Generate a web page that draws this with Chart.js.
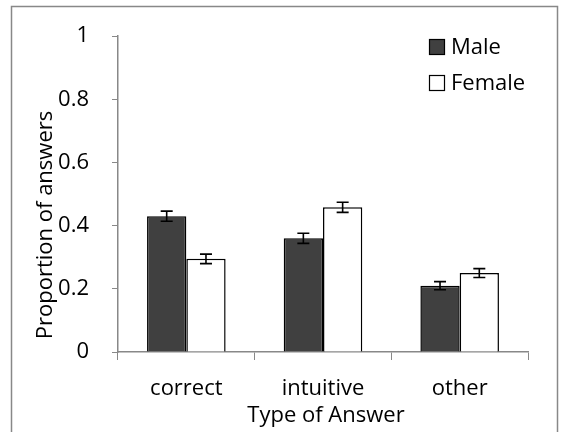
<!DOCTYPE html>
<html>
<head>
<meta charset="utf-8">
<script src="https://cdn.jsdelivr.net/npm/chart.js@4"></script>
<style>
html, body { margin: 0; padding: 0; background: #fff; }
#wrap { width: 561px; height: 432px; }
</style>
</head>
<body>
<div id="wrap"><canvas id="answers-chart" width="561" height="432"></canvas></div>
<script>
// values
const categories = ['correct', 'intuitive', 'other'];
const maleValues = [0.43, 0.36, 0.21];
const femaleValues = [0.295, 0.458, 0.25];
const maleErrors = [0.016, 0.016, 0.013];
const femaleErrors = [0.015, 0.016, 0.014];
const yTicks = [0, 0.2, 0.4, 0.6, 0.8, 1];
const errorSets = [maleErrors, femaleErrors];

const FONT = '"Open Sans", "DejaVu Sans", sans-serif';
const AXIS_GREY = '#888888';

// grey frame round the whole chart
const framePlugin = {
    id: 'frame',
    beforeDraw(chart) {
        const c = chart.ctx;
        c.save();
        c.fillStyle = '#fff';
        c.fillRect(0, 0, chart.width, chart.height);
        c.strokeStyle = AXIS_GREY;
        c.lineWidth = 1.5;
        c.strokeRect(11.5, 6.5, 546, 440);
        c.restore();
    }
};

// error bars drawn from the value arrays through the y scale
const errorBarPlugin = {
    id: 'errorBars',
    afterDatasetsDraw(chart) {
        const c = chart.ctx;
        const y = chart.scales.y;
        c.save();
        c.strokeStyle = '#000';
        c.lineWidth = 1.6;
        chart.data.datasets.forEach((ds, i) => {
            const meta = chart.getDatasetMeta(i);
            meta.data.forEach((bar, j) => {
                const v = ds.data[j];
                const e = errorSets[i][j];
                const top = y.getPixelForValue(v + e);
                const bot = y.getPixelForValue(v - e);
                const x = bar.x;
                c.beginPath();
                c.moveTo(x, top); c.lineTo(x, bot);
                c.moveTo(x - 6, top); c.lineTo(x + 6, top);
                c.moveTo(x - 6, bot); c.lineTo(x + 6, bot);
                c.stroke();
            });
        });
        c.restore();
    }
};

// axis titles and legend placed like the original
const labelsPlugin = {
    id: 'labels',
    afterDraw(chart) {
        const c = chart.ctx;
        c.save();
        c.fillStyle = '#000';
        c.font = '22px ' + FONT;
        c.textAlign = 'center';
        c.textBaseline = 'middle';
        c.fillText('Type of Answer', 326, 416);
        c.translate(46, 225);
        c.rotate(-Math.PI / 2);
        c.fillText('Proportion of answers', 0, 0);
        c.restore();

        c.save();
        c.font = '22px ' + FONT;
        c.textAlign = 'left';
        c.textBaseline = 'middle';
        chart.data.datasets.forEach((ds, i) => {
            const by = 39 + i * 36;
            c.fillStyle = ds.backgroundColor;
            c.fillRect(429, by, 16, 16);
            c.strokeStyle = '#000';
            c.lineWidth = 1.2;
            c.strokeRect(429.5, by + 0.5, 15, 15);
            c.fillStyle = '#000';
            c.fillText(ds.label, 451, by + 9);
        });
        c.restore();
    }
};

const data = {
    labels: categories,
    datasets: [{
        label: 'Male',
        data: maleValues,
        backgroundColor: '#404040',
        borderColor: '#000',
        borderWidth: 1.5
    }, {
        label: 'Female',
        data: femaleValues,
        backgroundColor: '#ffffff',
        borderColor: '#000',
        borderWidth: 1.5
    }]
};

const config = {
    type: 'bar',
    data: data,
    options: {
        responsive: false,
        animation: false,
        devicePixelRatio: 1,
        categoryPercentage: 0.575,
        barPercentage: 1,
        layout: { padding: { left: 0, top: 28, right: 33, bottom: 0 } },
        plugins: {
            legend: { display: false },
            tooltip: { enabled: false }
        },
        scales: {
            x: {
                afterFit(scale) { scale.height = 80; },
                grid: {
                    offset: true,
                    drawOnChartArea: false,
                    tickLength: 8,
                    color: AXIS_GREY
                },
                border: { color: AXIS_GREY, width: 1.5 },
                ticks: {
                    color: '#000',
                    padding: 16,
                    font: { size: 22, family: FONT }
                }
            },
            y: {
                min: 0,
                max: 1,
                afterFit(scale) { scale.width = 118; },
                afterBuildTicks(scale) {
                    scale.ticks = yTicks.map(v => ({ value: v }));
                },
                grid: {
                    drawOnChartArea: false,
                    tickLength: 6,
                    color: AXIS_GREY
                },
                border: { color: AXIS_GREY, width: 1.5 },
                ticks: {
                    color: '#000',
                    padding: 23,
                    font: { size: 22, family: FONT },
                    callback: v => String(Math.round(v * 10) / 10)
                }
            }
        }
    },
    plugins: [framePlugin, errorBarPlugin, labelsPlugin]
};

const answersChart = new Chart(document.getElementById('answers-chart').getContext('2d'), config);
</script>
</body>
</html>
